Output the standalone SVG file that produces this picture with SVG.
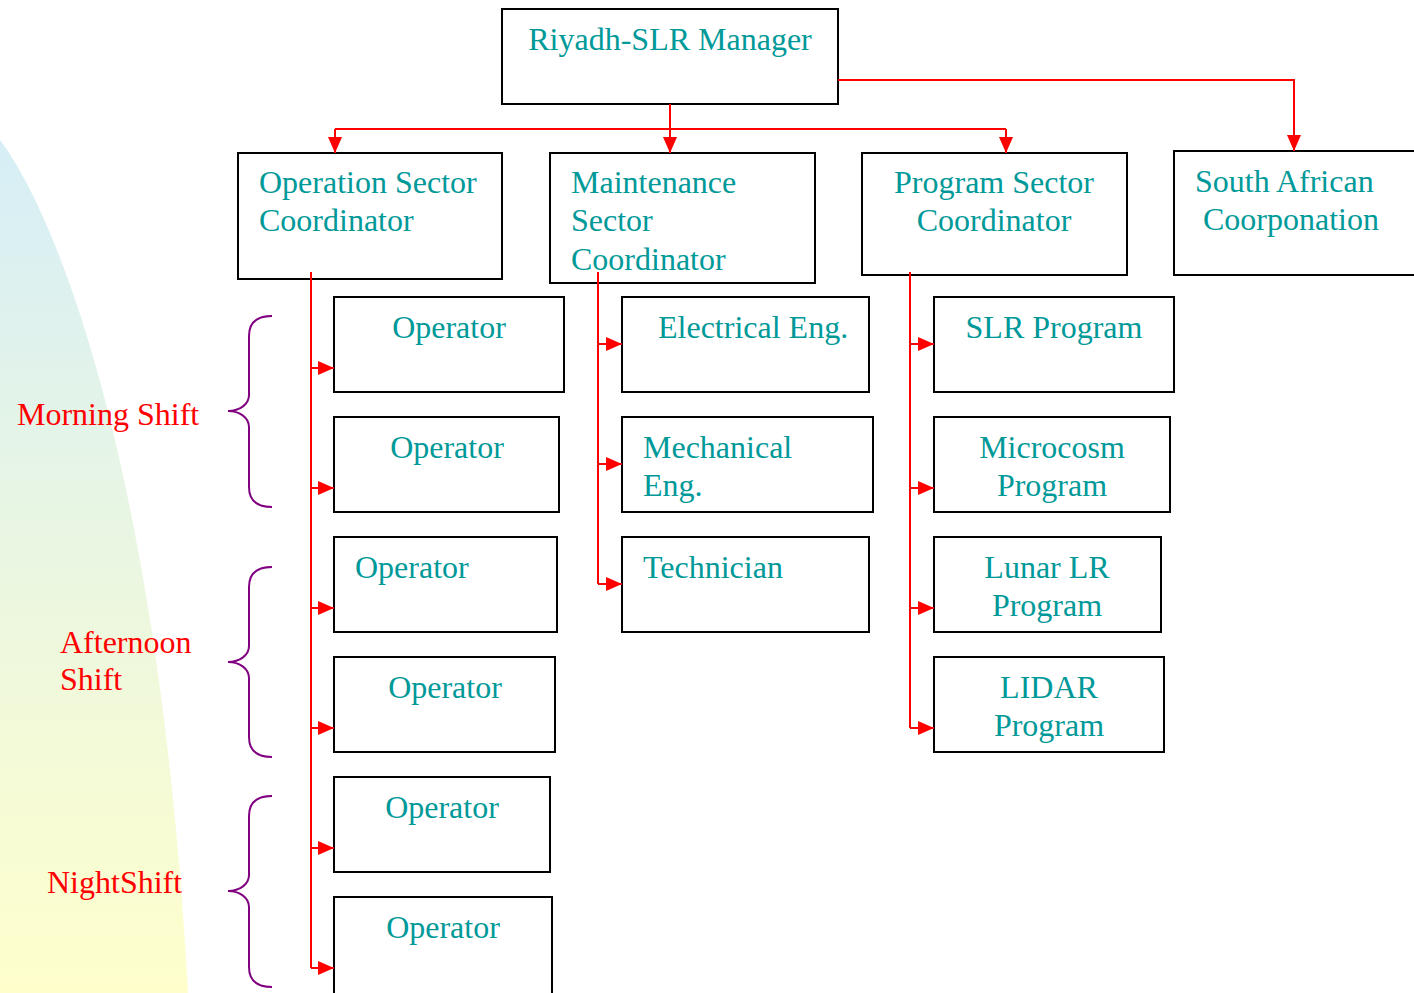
<svg xmlns="http://www.w3.org/2000/svg" width="1414" height="993" viewBox="0 0 1414 993">
<defs>
<linearGradient id="bg" x1="0" y1="0" x2="0" y2="1">
<stop offset="0" stop-color="#d6eef6"/>
<stop offset="1" stop-color="#ffffcc"/>
</linearGradient>
<marker id="ah" viewBox="0 0 16 14" refX="16" refY="7" markerWidth="16" markerHeight="14" orient="auto" markerUnits="userSpaceOnUse">
<path d="M0,0 L16,7 L0,14 Z" fill="#ff0000"/>
</marker>
<style>
.box{fill:none;stroke:#000;stroke-width:2}
.t{font-family:"Liberation Serif","Times New Roman",serif;font-size:32px;fill:#009999}
.c{text-anchor:middle}
.lbl{font-family:"Liberation Serif","Times New Roman",serif;font-size:32px;fill:#ff0000}
.con{fill:none;stroke:#ff0000;stroke-width:2}
.arr{fill:none;stroke:#ff0000;stroke-width:2;marker-end:url(#ah)}
.brace{fill:none;stroke:#800080;stroke-width:2}
</style>
</defs>
<rect width="1414" height="993" fill="#fff"/>
<path d="M0,140 C60,220 160,480 188,993 L0,993 Z" fill="url(#bg)"/>

<g id="labels">
<text class="lbl" x="17" y="425">Morning Shift</text>
<text class="lbl" x="60" y="653">Afternoon</text>
<text class="lbl" x="60" y="690">Shift</text>
<text class="lbl" x="47" y="893">NightShift</text>
</g>

<g id="braces">
<path class="brace" d="M272,316 C258,316 249,322 249,336 L249,395 C249,404 240,411 228,411 C240,411 249,418 249,427 L249,487 C249,501 258,507 272,507"/>
<path class="brace" d="M272,567 C258,567 249,573 249,587 L249,646 C249,655 240,662 228,662 C240,662 249,669 249,678 L249,737 C249,751 258,757 272,757"/>
<path class="brace" d="M272,796 C258,796 249,802 249,816 L249,875 C249,884 240,891 228,891 C240,891 249,898 249,907 L249,967 C249,981 258,987 272,987"/>
</g>

<g id="manager">
<rect class="box" x="502" y="9" width="336" height="95"/>
<text class="t c" x="670" y="50">Riyadh-SLR Manager</text>
</g>
<g id="operation-coord">
<rect class="box" x="238" y="153" width="264" height="126"/>
<text class="t" x="259" y="193">Operation Sector</text>
<text class="t" x="259" y="231">Coordinator</text>
</g>
<g id="maintenance-coord">
<rect class="box" x="550" y="153" width="265" height="130"/>
<text class="t" x="571" y="193">Maintenance</text>
<text class="t" x="571" y="231">Sector</text>
<text class="t" x="571" y="270">Coordinator</text>
</g>
<g id="program-coord">
<rect class="box" x="862" y="153" width="265" height="122"/>
<text class="t c" x="994" y="193">Program Sector</text>
<text class="t c" x="994" y="231">Coordinator</text>
</g>
<g id="south-african">
<rect class="box" x="1174" y="151" width="245" height="124"/>
<text class="t" x="1195" y="192">South African</text>
<text class="t" x="1203" y="230">Coorponation</text>
</g>

<g id="op1"><rect class="box" x="334" y="297" width="230" height="95"/><text class="t c" x="449" y="338">Operator</text></g>
<g id="op2"><rect class="box" x="334" y="417" width="225" height="95"/><text class="t c" x="447" y="458">Operator</text></g>
<g id="op3"><rect class="box" x="334" y="537" width="223" height="95"/><text class="t" x="355" y="578">Operator</text></g>
<g id="op4"><rect class="box" x="334" y="657" width="221" height="95"/><text class="t c" x="445" y="698">Operator</text></g>
<g id="op5"><rect class="box" x="334" y="777" width="216" height="95"/><text class="t c" x="442" y="818">Operator</text></g>
<g id="op6"><rect class="box" x="334" y="897" width="218" height="97"/><text class="t c" x="443" y="938">Operator</text></g>

<g id="electrical"><rect class="box" x="622" y="297" width="247" height="95"/><text class="t" x="658" y="338">Electrical Eng.</text></g>
<g id="mechanical"><rect class="box" x="622" y="417" width="251" height="95"/><text class="t" x="643" y="458">Mechanical</text><text class="t" x="643" y="496">Eng.</text></g>
<g id="technician"><rect class="box" x="622" y="537" width="247" height="95"/><text class="t" x="643" y="578">Technician</text></g>

<g id="slr"><rect class="box" x="934" y="297" width="240" height="95"/><text class="t c" x="1054" y="338">SLR Program</text></g>
<g id="microcosm"><rect class="box" x="934" y="417" width="236" height="95"/><text class="t c" x="1052" y="458">Microcosm</text><text class="t c" x="1052" y="496">Program</text></g>
<g id="lunar"><rect class="box" x="934" y="537" width="227" height="95"/><text class="t c" x="1047" y="578">Lunar LR</text><text class="t c" x="1047" y="616">Program</text></g>
<g id="lidar"><rect class="box" x="934" y="657" width="230" height="95"/><text class="t c" x="1049" y="698">LIDAR</text><text class="t c" x="1049" y="736">Program</text></g>

<g id="connectors">
<path class="arr" d="M670,104 L670,153"/>
<path class="con" d="M335,129 L1006,129"/>
<path class="arr" d="M335,129 L335,153"/>
<path class="arr" d="M1006,129 L1006,153"/>
<path class="arr" d="M838,80 L1294,80 L1294,151"/>

<path class="con" d="M311,272 L311,968"/>
<path class="arr" d="M311,368 L334,368"/>
<path class="arr" d="M311,488 L334,488"/>
<path class="arr" d="M311,608 L334,608"/>
<path class="arr" d="M311,728 L334,728"/>
<path class="arr" d="M311,848 L334,848"/>
<path class="arr" d="M311,968 L334,968"/>

<path class="con" d="M598,272 L598,584"/>
<path class="arr" d="M598,344 L622,344"/>
<path class="arr" d="M598,464 L622,464"/>
<path class="arr" d="M598,584 L622,584"/>

<path class="con" d="M910,272 L910,728"/>
<path class="arr" d="M910,344 L934,344"/>
<path class="arr" d="M910,488 L934,488"/>
<path class="arr" d="M910,608 L934,608"/>
<path class="arr" d="M910,728 L934,728"/>
</g>
</svg>
